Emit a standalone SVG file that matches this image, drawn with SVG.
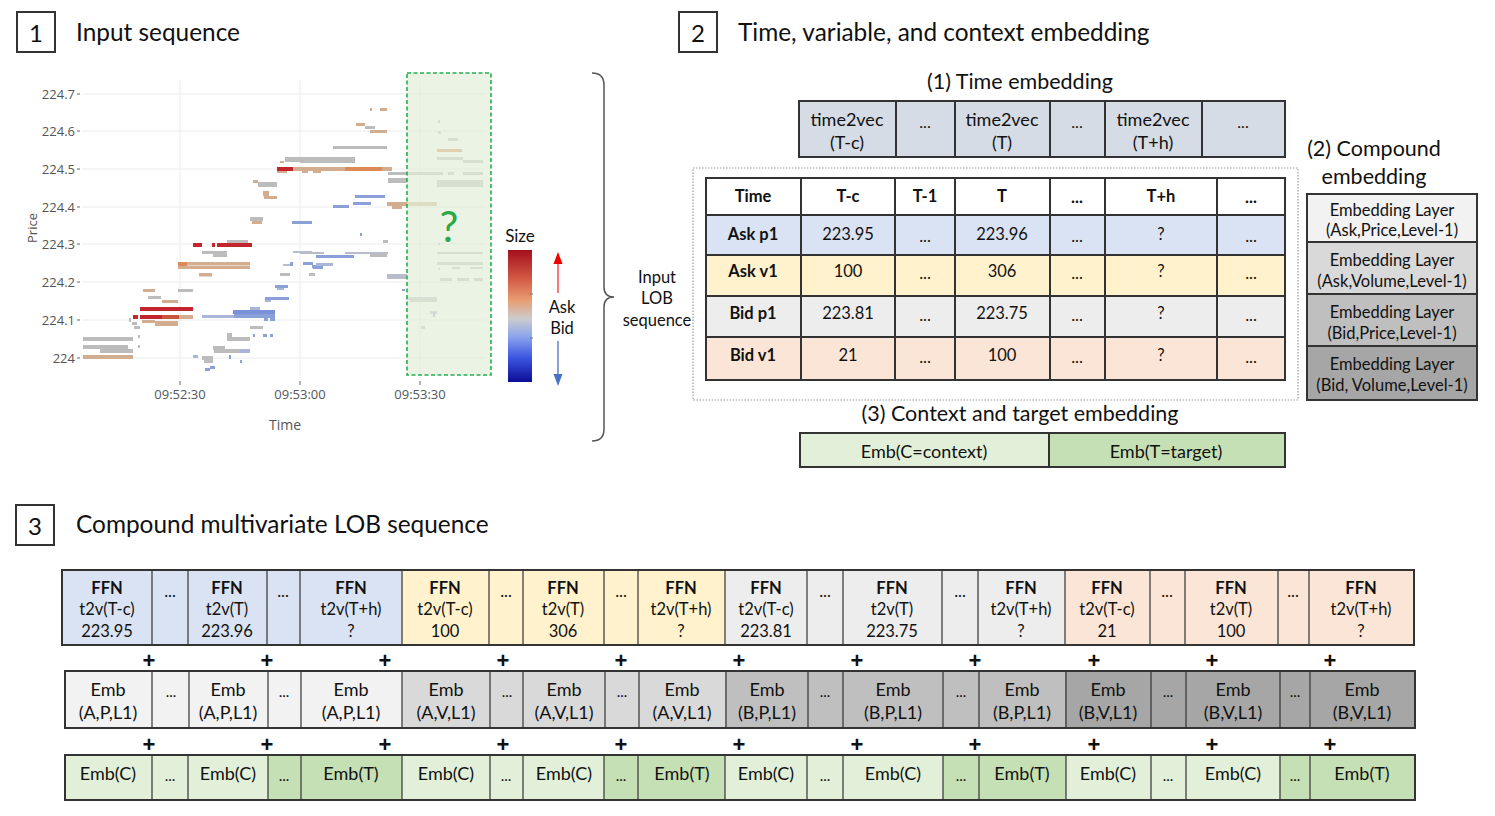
<svg xmlns="http://www.w3.org/2000/svg" width="1495" height="816" viewBox="0 0 1495 816">
<style>
text{font-family:Lato,"Open Sans","Liberation Sans",sans-serif;fill:#111}
.c{text-anchor:middle;dominant-baseline:central}
.t{font-size:24.4px}
.num{font-size:24px}
.ax{font-family:"Open Sans","Liberation Sans",sans-serif;font-size:13px;fill:#555}
.axr{font-family:"Open Sans","Liberation Sans",sans-serif;font-size:13px;fill:#555;text-anchor:end;dominant-baseline:central}
.grid{stroke:#ececec;stroke-width:1}
.box{stroke:#333;stroke-width:2}
.thin{stroke:#333;stroke-width:1.2}
.f16{font-size:16px}
.f165{font-size:16.5px}
.f18{font-size:18px}
.f15{font-size:15px}
.f14{font-size:14px}
.b{font-weight:bold}
.h20{font-size:21.5px}
.g{fill:#bcbcbc}.tn{fill:#d2ad90}.r{fill:#c3252c}.bl{fill:#8b9fd9}.o{fill:#de8a58}.lb{fill:#aab5d9}.gb{fill:#b8bccb}
.blue{fill:#dae3f3}.yel{fill:#fff2cc}.gry{fill:#ededed}.pnk{fill:#fbe5d6}
.ap{fill:#f2f2f2}.av{fill:#d9d9d9}.bp{fill:#bfbfbf}.bv{fill:#a6a6a6}
.lg{fill:#e2f0d9}.dg{fill:#c5e0b4}
.plus{font-size:22px;font-weight:bold;font-family:"Liberation Sans",sans-serif}
</style>
<defs>
<linearGradient id="cb" x1="0" y1="0" x2="0" y2="1">
<stop offset="0" stop-color="#a50f1e"/>
<stop offset="0.22" stop-color="#d45a45"/>
<stop offset="0.38" stop-color="#e89c72"/>
<stop offset="0.52" stop-color="#cccccc"/>
<stop offset="0.66" stop-color="#8aa3f0"/>
<stop offset="0.82" stop-color="#3a55e0"/>
<stop offset="1" stop-color="#0b0b96"/>
</linearGradient>
</defs>
<rect width="1495" height="816" fill="#fff"/>

<!-- Section titles -->
<g id="title1">
<rect x="17" y="12" width="38" height="40" fill="none" class="box"/>
<text x="36" y="32" class="c num">1</text>
<text x="76" y="31" class="t" dominant-baseline="central">Input sequence</text>
</g>
<g id="title2">
<rect x="679" y="12" width="38" height="40" fill="none" class="box"/>
<text x="698" y="32" class="c num">2</text>
<text x="738" y="31" class="t" dominant-baseline="central">Time, variable, and context embedding</text>
</g>
<g id="title3">
<rect x="16" y="505" width="38" height="40" fill="none" class="box"/>
<text x="35" y="525" class="c num">3</text>
<text x="76" y="523" class="t" dominant-baseline="central">Compound multivariate LOB sequence</text>
</g>

<!-- Chart -->
<g id="chart">
<g>
<line x1="82" y1="94" x2="485" y2="94" class="grid"/>
<line x1="82" y1="131" x2="485" y2="131" class="grid"/>
<line x1="82" y1="169" x2="485" y2="169" class="grid"/>
<line x1="82" y1="207" x2="485" y2="207" class="grid"/>
<line x1="82" y1="244" x2="485" y2="244" class="grid"/>
<line x1="82" y1="282" x2="485" y2="282" class="grid"/>
<line x1="82" y1="320" x2="485" y2="320" class="grid"/>
<line x1="82" y1="358" x2="485" y2="358" class="grid"/>
<line x1="180" y1="80" x2="180" y2="378" class="grid"/>
<line x1="300" y1="80" x2="300" y2="378" class="grid"/>
<line x1="420" y1="80" x2="420" y2="378" class="grid"/>
</g>
<g>
<text x="75" y="94" class="axr">224.7</text>
<text x="75" y="131" class="axr">224.6</text>
<text x="75" y="169" class="axr">224.5</text>
<text x="75" y="207" class="axr">224.4</text>
<text x="75" y="244" class="axr">224.3</text>
<text x="75" y="282" class="axr">224.2</text>
<text x="75" y="320" class="axr">224.1</text>
<text x="75" y="358" class="axr">224</text>
<g stroke="#666" stroke-width="1">
<line x1="77" y1="94" x2="80" y2="94"/><line x1="77" y1="131" x2="80" y2="131"/><line x1="77" y1="169" x2="80" y2="169"/><line x1="77" y1="207" x2="80" y2="207"/><line x1="77" y1="244" x2="80" y2="244"/><line x1="77" y1="282" x2="80" y2="282"/><line x1="77" y1="320" x2="80" y2="320"/><line x1="77" y1="358" x2="80" y2="358"/>
<line x1="180" y1="381" x2="180" y2="385"/><line x1="300" y1="381" x2="300" y2="385"/><line x1="420" y1="381" x2="420" y2="385"/>
</g>
<text x="180" y="394" class="ax c">09:52:30</text>
<text x="300" y="394" class="ax c">09:53:00</text>
<text x="420" y="394" class="ax c">09:53:30</text>
<text x="285" y="424" class="ax c" style="font-size:14px">Time</text>
<text x="0" y="0" class="ax c" style="font-size:13px" transform="translate(32 228) rotate(-90)">Price</text>
</g>
<g>
<rect x="83" y="337" width="50" height="4" class="g"/>
<rect x="83" y="345" width="45" height="4" class="g"/>
<rect x="100" y="349" width="33" height="4" class="g"/>
<rect x="83" y="355" width="50" height="4" class="tn"/>
<rect x="133" y="315" width="5" height="4" class="r"/>
<rect x="140" y="307" width="53" height="4" class="r"/>
<rect x="140" y="315" width="22" height="4" class="r"/>
<rect x="162" y="315" width="17" height="4" fill="#c9553c"/>
<rect x="179" y="315" width="14" height="4" class="tn"/>
<rect x="142" y="320" width="13" height="3" class="tn"/>
<rect x="155" y="321" width="23" height="5" class="tn"/>
<rect x="143" y="289" width="12" height="3" class="tn"/>
<rect x="148" y="296" width="13" height="3" class="g"/>
<rect x="162" y="300" width="16" height="3" class="tn"/>
<rect x="178" y="289" width="15" height="3" class="g"/>
<rect x="132" y="322" width="5" height="3" class="g"/>
<rect x="134" y="326" width="6" height="3" class="g"/>
<rect x="129" y="318" width="2" height="4" class="g"/>
<rect x="138" y="335" width="2" height="3" class="g"/>
<rect x="138" y="345" width="2" height="3" class="g"/>
<rect x="178" y="262" width="72" height="3.5" class="tn"/>
<rect x="178" y="262" width="9" height="7" class="o"/>
<rect x="178" y="266" width="72" height="3" class="tn"/>
<rect x="199" y="273" width="13" height="3.5" class="tn"/>
<rect x="202" y="251" width="25" height="3" class="g"/>
<rect x="213" y="254" width="14" height="3" class="g"/>
<rect x="193" y="243" width="9" height="4" class="r"/>
<rect x="212" y="243" width="3" height="4" class="r"/>
<rect x="217" y="243" width="35" height="4" class="r"/>
<rect x="227" y="240" width="21" height="3" class="g"/>
<rect x="250" y="217" width="13" height="4" class="g"/>
<rect x="252" y="221" width="10" height="3" class="tn"/>
<rect x="253" y="180" width="5" height="3" class="tn"/>
<rect x="258" y="182" width="19" height="5" class="g"/>
<rect x="263" y="191" width="6" height="5" class="tn"/>
<rect x="264" y="196" width="13" height="3" class="tn"/>
<rect x="277" y="167" width="16" height="4" class="r"/>
<rect x="293" y="167" width="7" height="4" class="tn"/>
<rect x="277" y="171" width="10" height="2" class="tn"/>
<rect x="285" y="157" width="15" height="5" class="g"/>
<rect x="280" y="161" width="4" height="2" class="tn"/>
<rect x="292" y="221" width="20" height="3" class="bl"/>
<rect x="202" y="315" width="32" height="3" class="lb"/>
<rect x="234" y="314" width="41" height="4" class="bl"/>
<rect x="233" y="310" width="42" height="4" fill="#7a90d8"/>
<rect x="250" y="307" width="10" height="3" class="lb"/>
<rect x="264" y="318" width="4" height="3" class="bl"/>
<rect x="270" y="318" width="5" height="3" class="bl"/>
<rect x="265" y="297" width="24" height="3" class="bl"/>
<rect x="265" y="300" width="6" height="2" class="lb"/>
<rect x="275" y="285" width="13" height="3" class="bl"/>
<rect x="277" y="288" width="7" height="2" class="lb"/>
<rect x="280" y="273" width="10" height="3" class="g"/>
<rect x="309" y="273" width="6" height="3" class="g"/>
<rect x="293" y="251" width="19" height="2" class="gb"/>
<rect x="283" y="264" width="9" height="2" class="gb"/>
<rect x="290" y="262" width="3" height="4" class="bl"/>
<rect x="303" y="262" width="3" height="3" class="bl"/>
<rect x="312" y="265" width="8" height="3" class="bl"/>
<rect x="227" y="337" width="23" height="4" class="g"/>
<rect x="227" y="333" width="5" height="4" class="g"/>
<rect x="213" y="346" width="12" height="4" class="g"/>
<rect x="214" y="349" width="36" height="4" class="g"/>
<rect x="240" y="349" width="10" height="4" class="lb"/>
<rect x="202" y="356" width="11" height="4" class="g"/>
<rect x="204" y="360" width="9" height="3" class="g"/>
<rect x="193" y="355" width="5" height="3" class="lb"/>
<rect x="205" y="368" width="5" height="3" class="bl"/>
<rect x="210" y="366" width="5" height="3" class="bl"/>
<rect x="250" y="326" width="13" height="3" class="g"/>
<rect x="253" y="334" width="2" height="3" class="bl"/>
<rect x="263" y="334" width="4" height="3" class="bl"/>
<rect x="270" y="334" width="3" height="3" class="bl"/>
<rect x="229" y="355" width="2" height="4" class="bl"/>
<rect x="240" y="360" width="2" height="3" class="bl"/>
<rect x="300" y="157" width="55" height="6" class="g"/>
<rect x="300" y="167" width="45" height="4" class="tn"/>
<rect x="345" y="167" width="37" height="4" class="o"/>
<rect x="382" y="167" width="10" height="4" class="tn"/>
<rect x="302" y="171" width="6" height="2" class="tn"/>
<rect x="313" y="171" width="8" height="2" class="tn"/>
<rect x="333" y="146" width="54" height="3" class="g"/>
<rect x="356" y="123" width="9" height="3" class="tn"/>
<rect x="365" y="126" width="10" height="3" class="g"/>
<rect x="370" y="130" width="17" height="3" class="tn"/>
<rect x="380" y="108" width="7" height="3" class="tn"/>
<rect x="370" y="108" width="2" height="3" class="tn"/>
<rect x="388" y="172" width="49" height="3" class="g"/>
<rect x="388" y="178" width="19" height="5" class="g"/>
<rect x="355" y="195" width="30" height="3" class="bl"/>
<rect x="353" y="202" width="18" height="3" class="bl"/>
<rect x="333" y="205" width="16" height="3" class="bl"/>
<rect x="387" y="202" width="50" height="4" class="tn"/>
<rect x="392" y="205" width="10" height="4" class="tn"/>
<rect x="300" y="221" width="12" height="3" class="bl"/>
<rect x="300" y="252" width="24" height="2" class="gb"/>
<rect x="316" y="255" width="38" height="3" class="bl"/>
<rect x="345" y="252" width="43" height="2" class="gb"/>
<rect x="370" y="254" width="17" height="3" class="g"/>
<rect x="303" y="262" width="10" height="3" class="bl"/>
<rect x="313" y="266" width="10" height="3" class="bl"/>
<rect x="316" y="263" width="17" height="3" class="lb"/>
<rect x="360" y="233" width="2" height="3" class="bl"/>
<rect x="383" y="240" width="5" height="3" class="g"/>
<rect x="387" y="274" width="20" height="5" class="gb"/>
<rect x="406" y="297" width="31" height="3" class="gb"/>
<rect x="410" y="300" width="27" height="2" class="g"/>
<rect x="430" y="311" width="7" height="3" class="gb"/>
<rect x="402" y="289" width="3" height="2" class="bl"/>
<rect x="437" y="149" width="25" height="3" class="o"/>
<rect x="437" y="157" width="26" height="3" class="g"/>
<rect x="463" y="160" width="20" height="3" class="g"/>
<rect x="437" y="172" width="6" height="3" class="g"/>
<rect x="448" y="172" width="6" height="3" class="g"/>
<rect x="463" y="172" width="20" height="3" class="g"/>
<rect x="437" y="180" width="46" height="7" class="g"/>
<rect x="448" y="138" width="10" height="3" class="g"/>
<rect x="438" y="120" width="2" height="3" class="tn"/>
<rect x="438" y="131" width="3" height="3" class="g"/>
<rect x="437" y="252" width="46" height="2" class="g"/>
<rect x="437" y="262" width="46" height="3" class="g"/>
<rect x="438" y="268" width="2" height="2" class="g"/>
<rect x="452" y="267" width="8" height="2" class="g"/>
<rect x="470" y="267" width="13" height="2" class="g"/>
<rect x="440" y="278" width="12" height="3" class="g"/>
<rect x="457" y="278" width="12" height="3" class="g"/>
<rect x="474" y="278" width="9" height="3" class="g"/>
<rect x="438" y="243" width="2" height="2" class="g"/>
<rect x="421" y="326" width="4" height="3" class="gb"/>
<rect x="433" y="312" width="2" height="5" class="bl"/>
</g>
<rect x="407" y="73" width="84" height="302" fill="#e2efd9" fill-opacity="0.7" stroke="#22b14c" stroke-width="1.6" stroke-dasharray="4,2.5"/>
<text x="449" y="226" class="c" style="font-size:42px;fill:#2aa84a">?</text>
<text x="520" y="235" class="c" style="font-size:17px">Size</text>
<rect x="508" y="250" width="24" height="132" fill="url(#cb)"/>
<g stroke="#666" stroke-width="0.8"><line x1="530" y1="294" x2="533" y2="294"/><line x1="530" y1="338" x2="533" y2="338"/></g>
<text x="562" y="307" class="c f165">Ask</text>
<text x="562" y="328" class="c f165">Bid</text>
</g>

<g id="connectors">
<line x1="558" y1="293" x2="558" y2="262" stroke="#e33" stroke-width="1.3"/>
<polygon points="558,252 553.5,264 562.5,264" fill="#e00"/>
<line x1="558" y1="341" x2="558" y2="376" stroke="#4a72c4" stroke-width="1.3"/>
<polygon points="558,386 553.5,374 562.5,374" fill="#4a72c4"/>
<path d="M592 73 Q604 73 604 85 L604 287 Q604 297 614 297 Q604 297 604 307 L604 429 Q604 441 592 441" fill="none" stroke="#555" stroke-width="1.5"/>
</g>

<g id="input-lob-label">
<text x="657" y="277" class="c f165">Input</text>
<text x="657" y="298" class="c f165">LOB</text>
<text x="657" y="320" class="c f165">sequence</text>
</g>

<!-- Section 2 -->
<g id="time-embedding">
<text x="1020" y="81" class="c h20">(1) Time embedding</text>
<rect x="799" y="101" width="486" height="56" fill="#d6dce5" class="box"/>
<g class="box"><line x1="896" y1="101" x2="896" y2="157"/><line x1="955" y1="101" x2="955" y2="157"/><line x1="1050" y1="101" x2="1050" y2="157"/><line x1="1105" y1="101" x2="1105" y2="157"/><line x1="1202" y1="101" x2="1202" y2="157"/></g>
<text x="847" y="119" class="c f18">time2vec</text><text x="847" y="142" class="c f18">(T-c)</text>
<text x="925" y="121" class="c f16">...</text>
<text x="1002" y="119" class="c f18">time2vec</text><text x="1002" y="142" class="c f18">(T)</text>
<text x="1077" y="121" class="c f16">...</text>
<text x="1153" y="119" class="c f18">time2vec</text><text x="1153" y="142" class="c f18">(T+h)</text>
<text x="1243" y="121" class="c f16">...</text>
</g>

<g id="lob-table">
<rect x="693" y="168" width="605" height="232" fill="none" stroke="#999" stroke-width="1.2" stroke-dasharray="1.5,1.5"/>
<rect x="706" y="178" width="579" height="37" fill="#fff"/>
<rect x="706" y="215" width="579" height="40" class="blue"/>
<rect x="706" y="255" width="579" height="41" class="yel"/>
<rect x="706" y="296" width="579" height="41" class="gry"/>
<rect x="706" y="337" width="579" height="43" class="pnk"/>
<g class="box" fill="none">
<rect x="706" y="178" width="579" height="202"/>
<line x1="706" y1="215" x2="1285" y2="215"/><line x1="706" y1="255" x2="1285" y2="255"/><line x1="706" y1="296" x2="1285" y2="296"/><line x1="706" y1="337" x2="1285" y2="337"/>
<line x1="801" y1="178" x2="801" y2="380"/><line x1="895" y1="178" x2="895" y2="380"/><line x1="955" y1="178" x2="955" y2="380"/><line x1="1050" y1="178" x2="1050" y2="380"/><line x1="1105" y1="178" x2="1105" y2="380"/><line x1="1217" y1="178" x2="1217" y2="380"/>
</g>
<g class="f165">
<text x="753" y="196" class="c b">Time</text><text x="848" y="196" class="c b">T-c</text><text x="925" y="196" class="c b">T-1</text><text x="1002" y="196" class="c b">T</text><text x="1077" y="197" class="c b">...</text><text x="1161" y="196" class="c b">T+h</text><text x="1251" y="197" class="c b">...</text>
<text x="753" y="234" class="c b">Ask p1</text><text x="848" y="234" class="c">223.95</text><text x="925" y="236" class="c">...</text><text x="1002" y="234" class="c">223.96</text><text x="1077" y="236" class="c">...</text><text x="1161" y="234" class="c">?</text><text x="1251" y="236" class="c">...</text>
<text x="753" y="271" class="c b">Ask v1</text><text x="848" y="271" class="c">100</text><text x="925" y="273" class="c">...</text><text x="1002" y="271" class="c">306</text><text x="1077" y="273" class="c">...</text><text x="1161" y="271" class="c">?</text><text x="1251" y="273" class="c">...</text>
<text x="753" y="313" class="c b">Bid p1</text><text x="848" y="313" class="c">223.81</text><text x="925" y="315" class="c">...</text><text x="1002" y="313" class="c">223.75</text><text x="1077" y="315" class="c">...</text><text x="1161" y="313" class="c">?</text><text x="1251" y="315" class="c">...</text>
<text x="753" y="355" class="c b">Bid v1</text><text x="848" y="355" class="c">21</text><text x="925" y="357" class="c">...</text><text x="1002" y="355" class="c">100</text><text x="1077" y="357" class="c">...</text><text x="1161" y="355" class="c">?</text><text x="1251" y="357" class="c">...</text>
</g>
</g>

<g id="compound-embedding">
<text x="1374" y="148" class="c h20">(2) Compound</text>
<text x="1374" y="176" class="c h20">embedding</text>
<rect x="1307" y="194" width="170" height="48" class="ap"/>
<rect x="1307" y="242" width="170" height="52" class="av"/>
<rect x="1307" y="294" width="170" height="52" class="bp"/>
<rect x="1307" y="346" width="170" height="54" class="bv"/>
<g class="box" fill="none"><rect x="1307" y="194" width="170" height="206"/><line x1="1307" y1="242" x2="1477" y2="242"/><line x1="1307" y1="294" x2="1477" y2="294"/><line x1="1307" y1="346" x2="1477" y2="346"/></g>
<g class="f165">
<text x="1392" y="210" class="c">Embedding Layer</text><text x="1392" y="230" class="c">(Ask,Price,Level-1)</text>
<text x="1392" y="260" class="c">Embedding Layer</text><text x="1392" y="281" class="c">(Ask,Volume,Level-1)</text>
<text x="1392" y="312" class="c">Embedding Layer</text><text x="1392" y="333" class="c">(Bid,Price,Level-1)</text>
<text x="1392" y="364" class="c">Embedding Layer</text><text x="1392" y="385" class="c">(Bid, Volume,Level-1)</text>
</g>
</g>

<g id="context-embedding">
<text x="1020" y="413" class="c h20">(3) Context and target embedding</text>
<rect x="800" y="433" width="249" height="34" class="lg"/>
<rect x="1049" y="433" width="236" height="34" class="dg"/>
<g class="box" fill="none"><rect x="800" y="433" width="485" height="34"/><line x1="1049" y1="433" x2="1049" y2="467"/></g>
<text x="924" y="451" class="c f18">Emb(C=context)</text>
<text x="1166" y="451" class="c f18">Emb(T=target)</text>
</g>

<!-- Section 3 -->
<g id="ffn-row">
<rect x="62" y="570" width="340" height="75" class="blue"/>
<rect x="402" y="570" width="323" height="75" class="yel"/>
<rect x="725" y="570" width="340" height="75" class="gry"/>
<rect x="1065" y="570" width="349" height="75" class="pnk"/>
<g class="thin" fill="none">
<rect x="62" y="570" width="1352" height="75" stroke-width="2"/>
<line x1="152" y1="570" x2="152" y2="645"/><line x1="188" y1="570" x2="188" y2="645"/><line x1="267" y1="570" x2="267" y2="645"/><line x1="300" y1="570" x2="300" y2="645"/><line x1="402" y1="570" x2="402" y2="645"/><line x1="489" y1="570" x2="489" y2="645"/><line x1="523" y1="570" x2="523" y2="645"/><line x1="604" y1="570" x2="604" y2="645"/><line x1="638" y1="570" x2="638" y2="645"/><line x1="725" y1="570" x2="725" y2="645"/><line x1="807" y1="570" x2="807" y2="645"/><line x1="843" y1="570" x2="843" y2="645"/><line x1="942" y1="570" x2="942" y2="645"/><line x1="978" y1="570" x2="978" y2="645"/><line x1="1065" y1="570" x2="1065" y2="645"/><line x1="1150" y1="570" x2="1150" y2="645"/><line x1="1185" y1="570" x2="1185" y2="645"/><line x1="1278" y1="570" x2="1278" y2="645"/><line x1="1309" y1="570" x2="1309" y2="645"/>
</g>
<g class="f165">
<text x="107" y="588" class="c b">FFN</text><text x="107" y="609" class="c">t2v(T-c)</text><text x="107" y="631" class="c">223.95</text>
<text x="170" y="591" class="c">...</text>
<text x="227" y="588" class="c b">FFN</text><text x="227" y="609" class="c">t2v(T)</text><text x="227" y="631" class="c">223.96</text>
<text x="283" y="591" class="c">...</text>
<text x="351" y="588" class="c b">FFN</text><text x="351" y="609" class="c">t2v(T+h)</text><text x="351" y="631" class="c">?</text>
<text x="445" y="588" class="c b">FFN</text><text x="445" y="609" class="c">t2v(T-c)</text><text x="445" y="631" class="c">100</text>
<text x="506" y="591" class="c">...</text>
<text x="563" y="588" class="c b">FFN</text><text x="563" y="609" class="c">t2v(T)</text><text x="563" y="631" class="c">306</text>
<text x="621" y="591" class="c">...</text>
<text x="681" y="588" class="c b">FFN</text><text x="681" y="609" class="c">t2v(T+h)</text><text x="681" y="631" class="c">?</text>
<text x="766" y="588" class="c b">FFN</text><text x="766" y="609" class="c">t2v(T-c)</text><text x="766" y="631" class="c">223.81</text>
<text x="825" y="591" class="c">...</text>
<text x="892" y="588" class="c b">FFN</text><text x="892" y="609" class="c">t2v(T)</text><text x="892" y="631" class="c">223.75</text>
<text x="960" y="591" class="c">...</text>
<text x="1021" y="588" class="c b">FFN</text><text x="1021" y="609" class="c">t2v(T+h)</text><text x="1021" y="631" class="c">?</text>
<text x="1107" y="588" class="c b">FFN</text><text x="1107" y="609" class="c">t2v(T-c)</text><text x="1107" y="631" class="c">21</text>
<text x="1167" y="591" class="c">...</text>
<text x="1231" y="588" class="c b">FFN</text><text x="1231" y="609" class="c">t2v(T)</text><text x="1231" y="631" class="c">100</text>
<text x="1293" y="591" class="c">...</text>
<text x="1361" y="588" class="c b">FFN</text><text x="1361" y="609" class="c">t2v(T+h)</text><text x="1361" y="631" class="c">?</text>
</g>
</g>

<g id="plus-signs">
<text x="149" y="660" class="c plus">+</text><text x="267" y="660" class="c plus">+</text><text x="385" y="660" class="c plus">+</text><text x="503" y="660" class="c plus">+</text><text x="621" y="660" class="c plus">+</text><text x="739" y="660" class="c plus">+</text><text x="857" y="660" class="c plus">+</text><text x="975" y="660" class="c plus">+</text><text x="1094" y="660" class="c plus">+</text><text x="1212" y="660" class="c plus">+</text><text x="1330" y="660" class="c plus">+</text>
<text x="149" y="744" class="c plus">+</text><text x="267" y="744" class="c plus">+</text><text x="385" y="744" class="c plus">+</text><text x="503" y="744" class="c plus">+</text><text x="621" y="744" class="c plus">+</text><text x="739" y="744" class="c plus">+</text><text x="857" y="744" class="c plus">+</text><text x="975" y="744" class="c plus">+</text><text x="1094" y="744" class="c plus">+</text><text x="1212" y="744" class="c plus">+</text><text x="1330" y="744" class="c plus">+</text>
</g>

<g id="emb-row">
<rect x="65" y="671" width="337" height="57" class="ap"/>
<rect x="402" y="671" width="323" height="57" class="av"/>
<rect x="725" y="671" width="340" height="57" class="bp"/>
<rect x="1065" y="671" width="350" height="57" class="bv"/>
<g class="thin" fill="none">
<rect x="65" y="671" width="1350" height="57" stroke-width="2"/>
<line x1="152" y1="671" x2="152" y2="728"/><line x1="189" y1="671" x2="189" y2="728"/><line x1="268" y1="671" x2="268" y2="728"/><line x1="301" y1="671" x2="301" y2="728"/><line x1="402" y1="671" x2="402" y2="728"/><line x1="490" y1="671" x2="490" y2="728"/><line x1="523" y1="671" x2="523" y2="728"/><line x1="605" y1="671" x2="605" y2="728"/><line x1="639" y1="671" x2="639" y2="728"/><line x1="726" y1="671" x2="726" y2="728"/><line x1="808" y1="671" x2="808" y2="728"/><line x1="843" y1="671" x2="843" y2="728"/><line x1="943" y1="671" x2="943" y2="728"/><line x1="979" y1="671" x2="979" y2="728"/><line x1="1066" y1="671" x2="1066" y2="728"/><line x1="1151" y1="671" x2="1151" y2="728"/><line x1="1186" y1="671" x2="1186" y2="728"/><line x1="1280" y1="671" x2="1280" y2="728"/><line x1="1310" y1="671" x2="1310" y2="728"/>
</g>
<g class="f18">
<text x="108" y="689" class="c">Emb</text><text x="108" y="712" class="c">(A,P,L1)</text>
<text x="171" y="691" class="c f15">...</text>
<text x="228" y="689" class="c">Emb</text><text x="228" y="712" class="c">(A,P,L1)</text>
<text x="284" y="691" class="c f15">...</text>
<text x="351" y="689" class="c">Emb</text><text x="351" y="712" class="c">(A,P,L1)</text>
<text x="446" y="689" class="c">Emb</text><text x="446" y="712" class="c">(A,V,L1)</text>
<text x="507" y="691" class="c f15">...</text>
<text x="564" y="689" class="c">Emb</text><text x="564" y="712" class="c">(A,V,L1)</text>
<text x="622" y="691" class="c f15">...</text>
<text x="682" y="689" class="c">Emb</text><text x="682" y="712" class="c">(A,V,L1)</text>
<text x="767" y="689" class="c">Emb</text><text x="767" y="712" class="c">(B,P,L1)</text>
<text x="825" y="691" class="c f15">...</text>
<text x="893" y="689" class="c">Emb</text><text x="893" y="712" class="c">(B,P,L1)</text>
<text x="961" y="691" class="c f15">...</text>
<text x="1022" y="689" class="c">Emb</text><text x="1022" y="712" class="c">(B,P,L1)</text>
<text x="1108" y="689" class="c">Emb</text><text x="1108" y="712" class="c">(B,V,L1)</text>
<text x="1168" y="691" class="c f15">...</text>
<text x="1233" y="689" class="c">Emb</text><text x="1233" y="712" class="c">(B,V,L1)</text>
<text x="1295" y="691" class="c f15">...</text>
<text x="1362" y="689" class="c">Emb</text><text x="1362" y="712" class="c">(B,V,L1)</text>
</g>
</g>

<g id="context-row">
<rect x="65" y="755" width="203" height="45" class="lg"/>
<rect x="268" y="755" width="134" height="45" class="dg"/>
<rect x="402" y="755" width="202" height="45" class="lg"/>
<rect x="604" y="755" width="121" height="45" class="dg"/>
<rect x="725" y="755" width="218" height="45" class="lg"/>
<rect x="943" y="755" width="123" height="45" class="dg"/>
<rect x="1066" y="755" width="214" height="45" class="lg"/>
<rect x="1280" y="755" width="135" height="45" class="dg"/>
<g class="thin" fill="none">
<rect x="65" y="755" width="1350" height="45" stroke-width="2"/>
<line x1="152" y1="755" x2="152" y2="800"/><line x1="188" y1="755" x2="188" y2="800"/><line x1="268" y1="755" x2="268" y2="800"/><line x1="301" y1="755" x2="301" y2="800"/><line x1="402" y1="755" x2="402" y2="800"/><line x1="490" y1="755" x2="490" y2="800"/><line x1="523" y1="755" x2="523" y2="800"/><line x1="604" y1="755" x2="604" y2="800"/><line x1="638" y1="755" x2="638" y2="800"/><line x1="725" y1="755" x2="725" y2="800"/><line x1="807" y1="755" x2="807" y2="800"/><line x1="843" y1="755" x2="843" y2="800"/><line x1="943" y1="755" x2="943" y2="800"/><line x1="979" y1="755" x2="979" y2="800"/><line x1="1066" y1="755" x2="1066" y2="800"/><line x1="1151" y1="755" x2="1151" y2="800"/><line x1="1186" y1="755" x2="1186" y2="800"/><line x1="1280" y1="755" x2="1280" y2="800"/><line x1="1310" y1="755" x2="1310" y2="800"/>
</g>
<g class="f18">
<text x="108" y="773" class="c">Emb(C)</text><text x="170" y="775" class="c f15">...</text>
<text x="228" y="773" class="c">Emb(C)</text><text x="284" y="775" class="c f15">...</text>
<text x="351" y="773" class="c">Emb(T)</text>
<text x="446" y="773" class="c">Emb(C)</text><text x="506" y="775" class="c f15">...</text>
<text x="564" y="773" class="c">Emb(C)</text><text x="621" y="775" class="c f15">...</text>
<text x="682" y="773" class="c">Emb(T)</text>
<text x="766" y="773" class="c">Emb(C)</text><text x="825" y="775" class="c f15">...</text>
<text x="893" y="773" class="c">Emb(C)</text><text x="961" y="775" class="c f15">...</text>
<text x="1022" y="773" class="c">Emb(T)</text>
<text x="1108" y="773" class="c">Emb(C)</text><text x="1168" y="775" class="c f15">...</text>
<text x="1233" y="773" class="c">Emb(C)</text><text x="1295" y="775" class="c f15">...</text>
<text x="1362" y="773" class="c">Emb(T)</text>
</g>
</g>
</svg>
